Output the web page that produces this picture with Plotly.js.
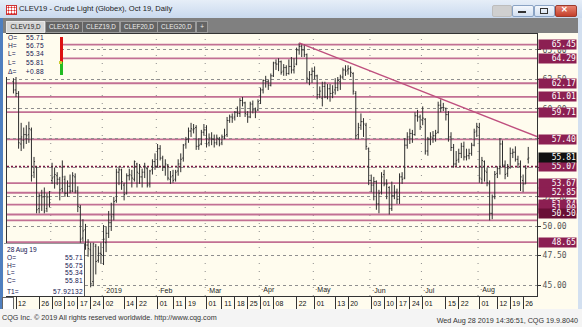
<!DOCTYPE html>
<html><head><meta charset="utf-8">
<script src="https://cdn.plot.ly/plotly-3.0.1.min.js"></script>
<style>
html,body{margin:0;padding:0;width:582px;height:327px;overflow:hidden;background:#d3e0f0;}
.abs{position:absolute;}
#titlebar{left:0;top:0;width:582px;height:18px;background:linear-gradient(#e6eef8,#c9d9ee);}
#ttext{left:19px;top:4px;font:7.6px "Liberation Sans",Arial,sans-serif;color:#1a1a1a;white-space:nowrap;}
#icon{left:6px;top:5px;width:9px;height:8px;background:#fff;border:1px solid #c33;
 background-image:radial-gradient(#d22 45%,transparent 50%);background-size:3px 3px;}
.wb{top:5px;height:10px;border:1px solid #8aa3c4;border-radius:2px;background:linear-gradient(#f4f8fd,#d2dff0);}
#tabstrip{left:3px;top:18px;width:575px;height:15px;background:#808080;}
.tab{top:21px;height:10px;border:1px solid #9c9c9c;background:#646464;color:#eee;
 font:6.4px "Liberation Sans",Arial,sans-serif;line-height:10px;text-align:center;white-space:nowrap;}
#panel{left:3px;top:33px;width:575px;height:276px;background:#fffcee;}
#lstripe{left:0;top:18px;width:3px;height:292px;background:#4f7fbf;}
#plot{left:0;top:0;width:582px;height:327px;}
.info{font:6.6px "Liberation Sans",Arial,sans-serif;color:#141450;white-space:pre;}
#footer{left:0;top:309px;width:582px;height:18px;background:#f4f4f4;}
#fl{left:2px;top:313px;font:7.2px "Liberation Sans",Arial,sans-serif;color:#333;white-space:nowrap;}
#fr{right:4px;top:316px;font:7.2px "Liberation Sans",Arial,sans-serif;color:#333;white-space:nowrap;}
</style></head><body>
<div id="panel" class="abs"></div>
<div id="plot" class="abs"></div>
<div id="lstripe" class="abs"></div>
<div id="titlebar" class="abs"></div>
<div id="icon" class="abs"></div>
<div id="ttext" class="abs">CLEV19 - Crude Light (Globex), Oct 19, Daily</div>
<div class="abs wb" style="left:492px;width:18px;background:#cfcfcf;border-color:#bdbdbd"></div>
<div class="abs wb" style="left:512px;width:20px"></div>
<div class="abs" style="left:518px;top:11px;width:8px;height:2px;background:#333"></div>
<div class="abs wb" style="left:534px;width:19px"></div>
<div class="abs" style="left:540px;top:8px;width:6px;height:4px;border:1px solid #333"></div>
<div class="abs wb" style="left:555px;width:20px;background:linear-gradient(#e8826f,#c4402c);border-color:#9c3b2d"></div>
<div class="abs" style="left:561px;top:5px;font:bold 8px 'Liberation Sans';color:#fff">✕</div>
<div id="tabstrip" class="abs"></div>
<div id="tabs"></div>
<div id="topinfo" class="abs info" style="left:5px;top:34px;width:58px;height:43px;background:#fffcee"></div>
<div class="abs" style="left:60px;top:37px;width:3px;height:25px;background:#d11"></div>
<div class="abs" style="left:60px;top:62px;width:3px;height:13px;background:#2b2"></div>
<div class="abs" style="left:59px;top:61px;width:3px;height:3px;background:#cc3"></div>
<div id="botinfo" class="abs info" style="left:4px;top:243px;width:80px;height:52px;background:#fff;border-top:1px solid #999;border-right:1px solid #555"></div>
<div class="abs" style="left:2px;top:297px;width:10px;height:11px;border:1px solid #666;background:#fff"></div>
<div id="footer" class="abs"></div>
<div id="fl" class="abs">CQG Inc. © 2019 All rights reserved worldwide. http://www.cqg.com</div>
<div id="fr" class="abs">Wed Aug 28 2019 14:36:51, CQG 19.9.8040</div>
<script>
// ---------- data ----------
const dates = [
"2018-11-09","2018-11-12","2018-11-13","2018-11-14","2018-11-15","2018-11-16","2018-11-19","2018-11-20","2018-11-21","2018-11-23","2018-11-26","2018-11-27","2018-11-28","2018-11-29","2018-11-30",
"2018-12-03","2018-12-04","2018-12-05","2018-12-06","2018-12-07","2018-12-10","2018-12-11","2018-12-12","2018-12-13","2018-12-14","2018-12-17","2018-12-18","2018-12-19","2018-12-20","2018-12-21","2018-12-24","2018-12-26","2018-12-27","2018-12-28","2018-12-31",
"2019-01-02","2019-01-03","2019-01-04","2019-01-07","2019-01-08","2019-01-09","2019-01-10","2019-01-11","2019-01-14","2019-01-15","2019-01-16","2019-01-17","2019-01-18","2019-01-22","2019-01-23","2019-01-24","2019-01-25","2019-01-28","2019-01-29","2019-01-30","2019-01-31",
"2019-02-01","2019-02-04","2019-02-05","2019-02-06","2019-02-07","2019-02-08","2019-02-11","2019-02-12","2019-02-13","2019-02-14","2019-02-15","2019-02-19","2019-02-20","2019-02-21","2019-02-22","2019-02-25","2019-02-26","2019-02-27","2019-02-28",
"2019-03-01","2019-03-04","2019-03-05","2019-03-06","2019-03-07","2019-03-08","2019-03-11","2019-03-12","2019-03-13","2019-03-14","2019-03-15","2019-03-18","2019-03-19","2019-03-20","2019-03-21","2019-03-22","2019-03-25","2019-03-26","2019-03-27","2019-03-28","2019-03-29",
"2019-04-01","2019-04-02","2019-04-03","2019-04-04","2019-04-05","2019-04-08","2019-04-09","2019-04-10","2019-04-11","2019-04-12","2019-04-15","2019-04-16","2019-04-17","2019-04-18","2019-04-22","2019-04-23","2019-04-24","2019-04-25","2019-04-26","2019-04-29","2019-04-30",
"2019-05-01","2019-05-02","2019-05-03","2019-05-06","2019-05-07","2019-05-08","2019-05-09","2019-05-10","2019-05-13","2019-05-14","2019-05-15","2019-05-16","2019-05-17","2019-05-20","2019-05-21","2019-05-22","2019-05-23","2019-05-24","2019-05-28","2019-05-29","2019-05-30","2019-05-31",
"2019-06-03","2019-06-04","2019-06-05","2019-06-06","2019-06-07","2019-06-10","2019-06-11","2019-06-12","2019-06-13","2019-06-14","2019-06-17","2019-06-18","2019-06-19","2019-06-20","2019-06-21","2019-06-24","2019-06-25","2019-06-26","2019-06-27","2019-06-28",
"2019-07-01","2019-07-02","2019-07-03","2019-07-05","2019-07-08","2019-07-09","2019-07-10","2019-07-11","2019-07-12","2019-07-15","2019-07-16","2019-07-17","2019-07-18","2019-07-19","2019-07-22","2019-07-23","2019-07-24","2019-07-25","2019-07-26","2019-07-29","2019-07-30","2019-07-31",
"2019-08-01","2019-08-02","2019-08-05","2019-08-06","2019-08-07","2019-08-08","2019-08-09","2019-08-12","2019-08-13","2019-08-14","2019-08-15","2019-08-16","2019-08-19","2019-08-20","2019-08-21","2019-08-22","2019-08-23","2019-08-26","2019-08-27","2019-08-28"];
const openP = [
62.3,61.6,61.3,57.0,57.3,57.8,57.8,58.2,54.6,55.0,51.5,52.6,52.5,51.5,52.5,
53.9,54.2,54.3,54.0,53.2,54.0,52.8,53.4,53.0,54.2,53.0,51.6,49.0,49.7,48.4,48.0,45.3,48.3,47.1,47.7,
47.5,48.6,49.4,50.3,51.0,52.2,54.6,54.8,53.5,52.8,54.3,54.3,54.0,55.3,54.5,54.2,54.6,54.9,53.6,54.8,55.5,
55.1,56.6,55.8,55.0,55.2,54.0,54.3,54.0,54.7,55.3,55.8,57.0,57.4,58.1,58.2,58.4,56.8,57.0,58.0,
58.2,57.1,57.5,57.4,57.1,57.4,57.1,57.6,57.8,59.0,59.3,59.3,59.7,59.6,60.7,60.5,59.5,59.3,60.4,59.9,59.9,
60.7,61.6,62.4,62.3,62.0,62.8,63.9,63.8,64.0,63.2,63.5,63.0,63.6,63.3,63.8,65.0,65.3,65.0,64.6,62.5,62.9,
63.2,62.8,61.2,60.9,61.9,61.0,61.7,61.3,61.6,61.8,62.3,62.7,63.3,63.3,63.4,63.0,61.3,57.8,58.6,58.9,58.6,56.6,
53.9,53.5,53.8,51.9,52.9,54.4,53.6,53.3,51.5,52.6,52.9,52.3,54.2,54.1,56.9,57.6,57.9,57.8,59.4,59.3,
59.0,59.1,56.4,57.4,57.5,57.7,58.0,60.3,60.1,60.0,59.5,57.6,56.7,55.3,55.7,56.2,56.8,55.9,56.0,56.2,56.9,58.1,
58.4,54.0,55.5,54.6,53.6,51.1,52.5,54.5,54.9,57.0,55.2,54.5,55.0,56.2,56.3,55.7,55.3,53.9,53.6,55.71];
const highP = [
62.6,62.7,61.5,58.8,58.4,58.6,58.9,58.4,55.9,55.1,52.8,53.1,53.3,52.8,53.0,
55.4,55.0,54.6,54.2,55.6,54.3,53.9,54.4,54.6,54.5,53.4,51.8,50.6,50.2,48.9,48.6,48.6,48.5,48.3,48.6,
50.1,50.0,51.3,52.0,52.5,54.9,55.1,54.9,53.7,54.5,54.9,54.8,55.6,55.4,55.3,54.9,55.4,55.0,54.8,55.7,56.2,
57.0,56.9,56.0,55.7,55.3,54.7,54.8,54.8,55.7,56.2,57.0,57.6,58.4,58.8,58.7,58.6,57.5,58.2,58.7,
58.6,57.9,58.0,57.8,57.8,57.6,57.8,58.3,59.3,59.5,59.6,59.8,60.2,60.9,61.0,60.6,59.8,60.6,60.7,60.1,60.8,
61.8,62.5,62.8,62.5,63.0,64.0,64.2,64.3,64.1,63.8,63.7,64.2,64.4,64.3,65.2,65.6,65.5,65.5,64.7,63.2,63.5,
63.6,62.9,61.9,62.3,62.3,62.1,62.1,62.0,62.6,62.7,62.9,63.5,63.7,63.7,63.6,63.1,61.5,58.8,59.6,59.2,58.8,56.7,
54.4,54.2,53.9,53.1,54.6,54.8,54.0,53.4,53.8,53.5,53.2,54.5,54.6,57.5,58.0,58.3,58.2,59.7,59.9,59.5,
60.2,59.2,57.6,58.0,58.1,58.2,60.6,60.8,60.5,60.1,59.8,58.0,57.0,56.4,56.6,57.1,57.2,56.6,56.6,57.1,58.3,58.8,
58.8,55.9,55.6,55.0,53.9,52.7,54.7,55.1,57.5,57.3,55.6,55.3,56.7,56.6,56.8,56.0,55.6,54.4,55.2,56.75];
const lowP = [
61.3,61.0,56.6,56.4,56.6,57.0,57.1,53.8,54.1,51.1,51.1,51.3,51.1,51.2,51.6,
53.6,53.2,53.5,52.2,52.9,52.5,52.5,52.8,52.9,52.8,51.2,48.6,48.7,48.0,47.4,44.8,44.9,45.9,46.9,46.8,
46.7,47.8,49.0,49.6,50.5,52.0,53.5,53.1,52.2,52.7,53.9,53.3,53.8,53.3,53.6,53.3,54.1,53.3,53.3,54.4,54.8,
55.0,55.6,54.7,54.3,53.9,53.6,53.7,53.8,54.3,54.6,55.5,56.6,57.1,57.6,57.9,56.5,56.5,56.9,57.7,
56.7,56.8,56.9,56.7,56.9,56.8,56.9,57.4,57.6,58.8,58.8,59.0,59.3,59.3,60.2,59.3,58.8,59.2,59.6,59.2,59.8,
60.4,61.3,61.8,61.6,61.9,62.7,63.3,63.2,62.9,62.8,62.8,62.9,63.0,63.0,63.7,64.6,64.4,64.4,62.2,62.0,62.2,
62.5,60.8,60.9,60.2,60.9,60.8,60.6,60.9,61.2,61.5,61.6,62.5,62.8,62.9,62.7,61.2,57.4,57.4,58.2,57.6,56.5,53.5,
52.9,52.2,51.4,51.1,52.7,53.4,52.3,51.0,51.3,52.3,51.9,51.9,53.6,54.0,56.6,57.0,57.1,57.7,58.9,58.2,
58.6,56.1,56.0,56.9,57.1,57.2,57.9,59.7,59.8,59.0,57.2,56.4,55.0,55.1,55.4,55.8,55.6,55.6,55.7,56.0,56.8,57.6,
53.7,53.6,53.8,53.4,50.5,50.6,52.3,54.1,54.4,55.0,54.0,54.2,54.9,55.8,55.5,55.0,53.0,52.9,53.6,55.34];
const closeP = [
61.6,61.3,57.1,57.6,57.8,57.7,58.3,54.3,55.5,51.4,52.6,52.5,51.3,52.5,52.0,
54.1,54.4,54.0,53.1,54.2,52.8,53.4,53.0,54.3,53.0,51.7,48.9,49.6,48.4,48.1,45.1,48.5,47.0,47.7,47.6,
48.9,49.4,50.3,50.8,52.1,54.6,54.8,53.8,52.7,54.3,54.4,54.1,55.5,54.6,54.2,54.6,55.1,53.5,54.7,55.5,55.1,
56.6,55.8,55.0,55.3,54.1,54.2,53.9,54.6,55.3,55.7,56.9,57.4,58.1,58.3,58.3,56.8,56.9,58.0,58.2,
57.0,57.5,57.4,57.1,57.5,57.0,57.6,57.7,59.0,59.3,59.2,59.7,59.6,60.7,60.5,59.6,59.3,60.4,59.9,59.8,60.6,
61.6,62.4,62.3,62.0,62.8,63.9,63.8,64.0,63.1,63.5,63.0,63.6,63.3,63.6,65.0,65.3,65.0,64.6,62.6,62.9,63.2,
62.8,61.2,61.5,61.9,61.0,61.7,61.3,61.4,61.8,62.4,62.7,63.3,63.2,63.4,63.1,61.5,57.7,58.4,58.9,58.7,56.8,53.9,
53.5,53.8,51.9,52.8,54.2,53.6,53.6,51.5,52.6,52.9,52.3,54.2,54.0,56.9,57.6,57.9,57.8,59.4,59.3,58.5,
59.2,56.4,57.4,57.6,57.7,57.9,60.3,60.1,60.1,59.5,57.6,56.7,55.3,55.6,56.2,56.8,55.9,56.0,56.2,56.9,58.0,58.5,
54.1,55.6,54.7,53.7,51.1,52.5,54.4,54.9,57.0,55.2,54.4,54.9,56.2,56.3,55.7,55.3,54.2,53.6,54.93,55.81];

const tickDates = ["2018-11-12","2018-11-26","2018-12-03","2018-12-10","2018-12-17","2018-12-24","2019-01-02","2019-01-14","2019-01-22","2019-02-01","2019-02-11","2019-02-19","2019-03-01","2019-03-11","2019-03-18","2019-03-25","2019-04-01","2019-04-08","2019-04-22","2019-05-01","2019-05-13","2019-05-20","2019-06-03","2019-06-10","2019-06-17","2019-06-24","2019-07-01","2019-07-15","2019-07-22","2019-08-01","2019-08-12","2019-08-19","2019-08-26"];
const tickText = ["12","26","03","10","17","24","02","14","22","01","11","19","01","11","18","25","01","08","22","01","13","20","03","10","17","24","01","15","22","01","12","19","26"];
const monthDates = ["2018-12-03","2019-01-02","2019-02-01","2019-03-01","2019-04-01","2019-05-01","2019-06-03","2019-07-01","2019-08-01"];
const monthText = ["","2019","Feb","Mar","Apr","May","Jun","Jul","Aug"];
const priceTicks = [45, 47.5, 50, 52.5, 55, 57.5, 60, 62.5, 65];
const priceTickText = ["45.00","47.50","50.00","52.50","","","60.00","62.50","65.00"];
const levels = [65.45, 64.29, 62.17, 61.01, 59.71, 57.40, 55.07, 53.67, 52.85, 51.84, 51.00, 50.50, 48.65];
const trendDates = ["2019-04-23", "2019-08-28"];
const trendValues = [65.60, 57.92132];
const barDateText = "28 Aug 19";
const prevClose = 54.93;

// ---------- chrome text ----------
const tabNames = ["CLEV19,D","CLEX19,D","CLEZ19,D","CLEF20,D","CLEG20,D","+"];
const tabPos = [[6,37],[45,36],[82,36],[120,36],[157,37],[196,10]];
let th = "";
tabNames.forEach((t,i)=>{
  const act = i===0;
  th += `<div class="abs tab" style="left:${tabPos[i][0]}px;width:${tabPos[i][1]}px;${act?'background:#d6d6d6;color:#222;border-color:#e8e8e8':''}">${t}</div>`;
});
document.getElementById('tabs').innerHTML = th;

const L = dates.length-1;
function row(lbl,val,y,vx){return `<div class="abs" style="left:3px;top:${y}px">${lbl}</div><div class="abs" style="left:0;width:${vx}px;text-align:right;top:${y}px;letter-spacing:0.3px">${val}</div>`;}
const ch = closeP[L]-prevClose;
document.getElementById('topinfo').innerHTML =
  row("O=",openP[L].toFixed(2),0,39)+row("H=",highP[L].toFixed(2),8,39)+row("L=",lowP[L].toFixed(2),16,39)+
  row("L=",closeP[L].toFixed(2),25,39)+row("Δ=",(ch>=0?"+":"")+ch.toFixed(2),34,39);
document.getElementById('botinfo').innerHTML =
  `<div class="abs" style="left:3px;top:2px">${barDateText}</div>`+
  row("O=",openP[L].toFixed(2),10,79)+row("H=",highP[L].toFixed(2),18,79)+row("L=",lowP[L].toFixed(2),25,79)+
  row("C=",closeP[L].toFixed(2),33,79)+row("T1=",trendValues[1].toFixed(5),44,79);

// ---------- plot ----------
const xRange = [-2.5, 203.4];
const yRange = [44.064, 66.36];
const idx = d => dates.indexOf(d);

const i0 = idx(trendDates[0]), i1 = idx(trendDates[1]);
const slope = (trendValues[1]-trendValues[0])/(i1-i0);
const trendEndY = trendValues[0] + slope*(xRange[1]-i0);

const shapes = [];
monthDates.forEach(d=>{
  shapes.push({type:'line',xref:'x',yref:'paper',x0:idx(d)-0.5,x1:idx(d)-0.5,y0:0,y1:1,
    line:{color:'#8c8c8c',width:1,dash:'1px,7px'},layer:'below'});
});
levels.forEach(v=>{
  const dotted = Math.abs(v-55.07)<1e-6;
  shapes.push({type:'line',xref:'paper',yref:'y',x0:0,x1:1,y0:v,y1:v,
    line:{color:dotted?'#7a1a45':'#c27093',width:dotted?1.6:1.8,dash:dotted?'2px,2px':'solid'},layer:'below'});
});
shapes.push({type:'line',xref:'x',yref:'y',x0:i0,y0:trendValues[0],x1:xRange[1],y1:trendEndY,
  line:{color:'#bf4f7e',width:1.4}});

const annotations = [];
monthDates.forEach((d,k)=>{
  if(!monthText[k]) return;
  annotations.push({xref:'x',yref:'paper',x:idx(d)-0.5,y:0,xanchor:'left',yanchor:'bottom',yshift:0,
    text:'·'+monthText[k],showarrow:false,font:{family:'Liberation Sans, Arial',size:7,color:'#222'}});
});
const lvlShift = {"51.00":6,"50.50":7};
levels.forEach(v=>{
  const t = v.toFixed(2);
  annotations.push({xref:'paper',yref:'y',x:1,y:v,xanchor:'left',yanchor:'middle',xshift:1,yshift:lvlShift[t]||0,
    text:t,showarrow:false,align:'right',width:37,height:9,borderpad:0,
    bgcolor:t==="50.50"?'#6a0f36':'#8c1f52',
    font:{family:'DejaVu Sans Mono, Liberation Mono, monospace',size:8,color:'#ffffff'}});
});
annotations.push({xref:'paper',yref:'y',x:1,y:closeP[L],xanchor:'left',yanchor:'middle',xshift:1,
  text:closeP[L].toFixed(2),showarrow:false,align:'right',width:37,height:9,borderpad:0,bgcolor:'#111111',
  font:{family:'DejaVu Sans Mono, Liberation Mono, monospace',size:8,color:'#ffffff'}});

const trace = {type:'ohlc',x:dates,open:openP,high:highP,low:lowP,close:closeP,
  increasing:{line:{color:'#2f2f2f',width:1}},decreasing:{line:{color:'#2f2f2f',width:1}},
  tickwidth:0.4,hoverinfo:'none',showlegend:false};

const layout = {
  width:582,height:327,margin:{l:7,r:45,t:34,b:31,pad:0},
  paper_bgcolor:'rgba(0,0,0,0)',plot_bgcolor:'rgba(0,0,0,0)',showlegend:false,
  xaxis:{type:'category',range:xRange,rangeslider:{visible:false},tickmode:'array',tickvals:tickDates,ticktext:tickText,
    ticks:'outside',ticklen:13,tickcolor:'#333',tickwidth:1,ticklabelshift:6,ticklabelstandoff:-12,
    tickfont:{family:'Liberation Sans, Arial',size:7,color:'#111'},tickangle:0,
    showgrid:false,zeroline:false,showline:true,linecolor:'#333',linewidth:1,mirror:true,fixedrange:true},
  yaxis:{side:'right',range:yRange,tickmode:'array',tickvals:priceTicks,ticktext:priceTickText,
    ticks:'outside',ticklen:3,tickcolor:'#333',
    tickfont:{family:'DejaVu Sans Mono, Liberation Mono, monospace',size:8,color:'#555'},
    showgrid:true,gridcolor:'#8f8f8f',griddash:'dot',gridwidth:1,
    zeroline:false,showline:true,linecolor:'#333',linewidth:1,mirror:true,fixedrange:true},
  shapes:shapes,annotations:annotations
};
Plotly.newPlot('plot',[trace],layout,{staticPlot:true,displayModeBar:false});
</script>
</body></html>
